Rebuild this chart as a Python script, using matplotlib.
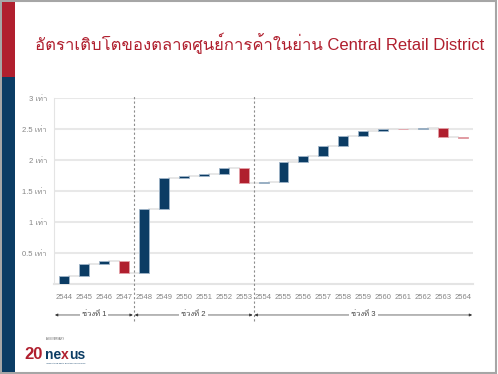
import numpy as np
import matplotlib
matplotlib.use("Agg")
import matplotlib.pyplot as plt
from matplotlib import font_manager
from matplotlib.ft2font import FT2Font
from matplotlib.patches import Rectangle

# data (cumulative growth level, in "times")
years = ["2544", "2545", "2546", "2547", "2548", "2549", "2550", "2551", "2552", "2553", "2554",
         "2555", "2556", "2557", "2558", "2559", "2560", "2561", "2562", "2563", "2564"]
levels = [0.13, 0.32, 0.37, 0.18, 1.21, 1.72, 1.75, 1.78, 1.88, 1.63, 1.65,
          1.97, 2.07, 2.24, 2.40, 2.48, 2.51, 2.50, 2.52, 2.38, 2.36]
y_ticks = [0.5, 1, 1.5, 2, 2.5, 3]
y_labels = ["0.5 เท่า", "1 เท่า", "1.5 เท่า", "2 เท่า", "2.5 เท่า", "3 เท่า"]
periods = ["ช่วงที่ 1", "ช่วงที่ 2", "ช่วงที่ 3"]
period_bounds = [(-0.5, 3.5), (3.5, 9.5), (9.5, 20.5)]
title = "อัตราเติบโตของตลาดศูนย์การค้าในย่าน Central Retail District"

RED = "#B01F2E"
BLUE = "#0B3C64"


def find_thai_font():
    for f in font_manager.fontManager.ttflist:
        try:
            if 0x0E01 in FT2Font(f.fname).get_charmap():
                return f.name
        except Exception:
            pass
    return "DejaVu Sans"


thai = find_thai_font()
fam = ["Liberation Sans", thai, "DejaVu Sans"]
plt.rcParams["font.family"] = fam

fig = plt.figure(figsize=(4.98, 3.74), dpi=100)
fig.patch.set_facecolor("white")

# frame + left stripe
fig.patches.append(Rectangle((0.002, 0.004), 0.993, 0.992, transform=fig.transFigure,
                             fill=False, edgecolor="#A6A6A6", linewidth=1.5))
fig.patches.append(Rectangle((0.004, 0.794), 0.026, 0.2, transform=fig.transFigure,
                             facecolor=RED, edgecolor="none"))
fig.patches.append(Rectangle((0.004, 0.006), 0.026, 0.788, transform=fig.transFigure,
                             facecolor=BLUE, edgecolor="none"))

fig.text(0.07, 0.885, title, color=RED, fontsize=12, ha="left", va="center", family=fam)

ax = fig.add_axes([0.1084, 0.2398, 0.8416, 0.497])
x = np.arange(len(years))
starts = np.array([0] + levels[:-1])
ends = np.array(levels)
delta = ends - starts
cols = [BLUE if d >= 0 else RED for d in delta]
edge = ["#9FB4C8" if d >= 0 else "#E3A0A7" for d in delta]
ax.bar(x, delta, bottom=starts, width=0.5, color=cols, edgecolor=edge, linewidth=0.6, zorder=3)

# connectors
for i in range(len(years) - 1):
    ax.plot([x[i] + 0.25, x[i + 1] - 0.25], [ends[i], ends[i]], color="#E3E3E3", lw=1.2, zorder=2)

ax.set_xlim(-0.5, len(years) - 0.5)
ax.set_ylim(0, 3)
ax.set_yticks(y_ticks)
ax.set_yticklabels(y_labels)
ax.set_xticks(x)
ax.set_xticklabels(years)
ax.tick_params(axis="both", length=0, labelsize=5.5, labelcolor="#858585")
ax.tick_params(axis="x", pad=7)
ax.tick_params(axis="y", pad=5)
ax.grid(axis="y", color="#E8E8E8", lw=1.5, zorder=0)
for s in ["top", "right"]:
    ax.spines[s].set_visible(False)
ax.spines["left"].set_color("#E4E4E4")
ax.spines["bottom"].set_color("#E4E4E4")
ax.spines["bottom"].set_linewidth(1.5)

# period separators and arrows
for b in [period_bounds[0][1], period_bounds[1][1]]:
    ax.axvline(b, ymin=-0.2, ymax=1.015, color="#8C8C8C", lw=0.8, ls=(0, (2, 2)), clip_on=False, zorder=4)

arrow_y = -0.165
for (a, b), lab in zip(period_bounds, periods):
    ax.annotate("", xy=(a + 0.05, arrow_y), xytext=(b - 0.05, arrow_y),
                xycoords=("data", "axes fraction"), textcoords=("data", "axes fraction"),
                arrowprops=dict(arrowstyle="<|-|>", color="#333333", lw=0.5,
                                mutation_scale=4, shrinkA=0, shrinkB=0))
    ax.text((a + b) / 2, arrow_y, lab, transform=ax.get_xaxis_transform(), ha="center", va="center",
            fontsize=5.5, color="#444444",
            bbox=dict(facecolor="white", edgecolor="none", pad=1.5))

# logo
logo_y = 0.04
fig.text(0.048, logo_y, "20", color=RED, fontsize=12, fontweight="bold", ha="left", va="baseline",
         family=["Liberation Sans Narrow", "Liberation Sans", "DejaVu Sans"])
r = fig.canvas.get_renderer()
xpos = 0.09
for part, c in [("ne", BLUE), ("x", RED), ("us", BLUE)]:
    t = fig.text(xpos, logo_y, part, color=c, fontsize=10, fontweight="bold", ha="left", va="baseline",
                 family=["Liberation Sans", "DejaVu Sans"])
    xpos += t.get_window_extent(r).width / fig.bbox.width
fig.text(0.092, logo_y + 0.05, "ANNIVERSARY", color="#555555", fontsize=1.8, ha="left", va="baseline", family=fam)
fig.text(0.092, logo_y - 0.012, "INNOVATIVE REAL ESTATE SOLUTIONS", color=BLUE, fontsize=1.5, ha="left",
         va="baseline", family=fam)

fig.savefig("out.png", dpi=100)
